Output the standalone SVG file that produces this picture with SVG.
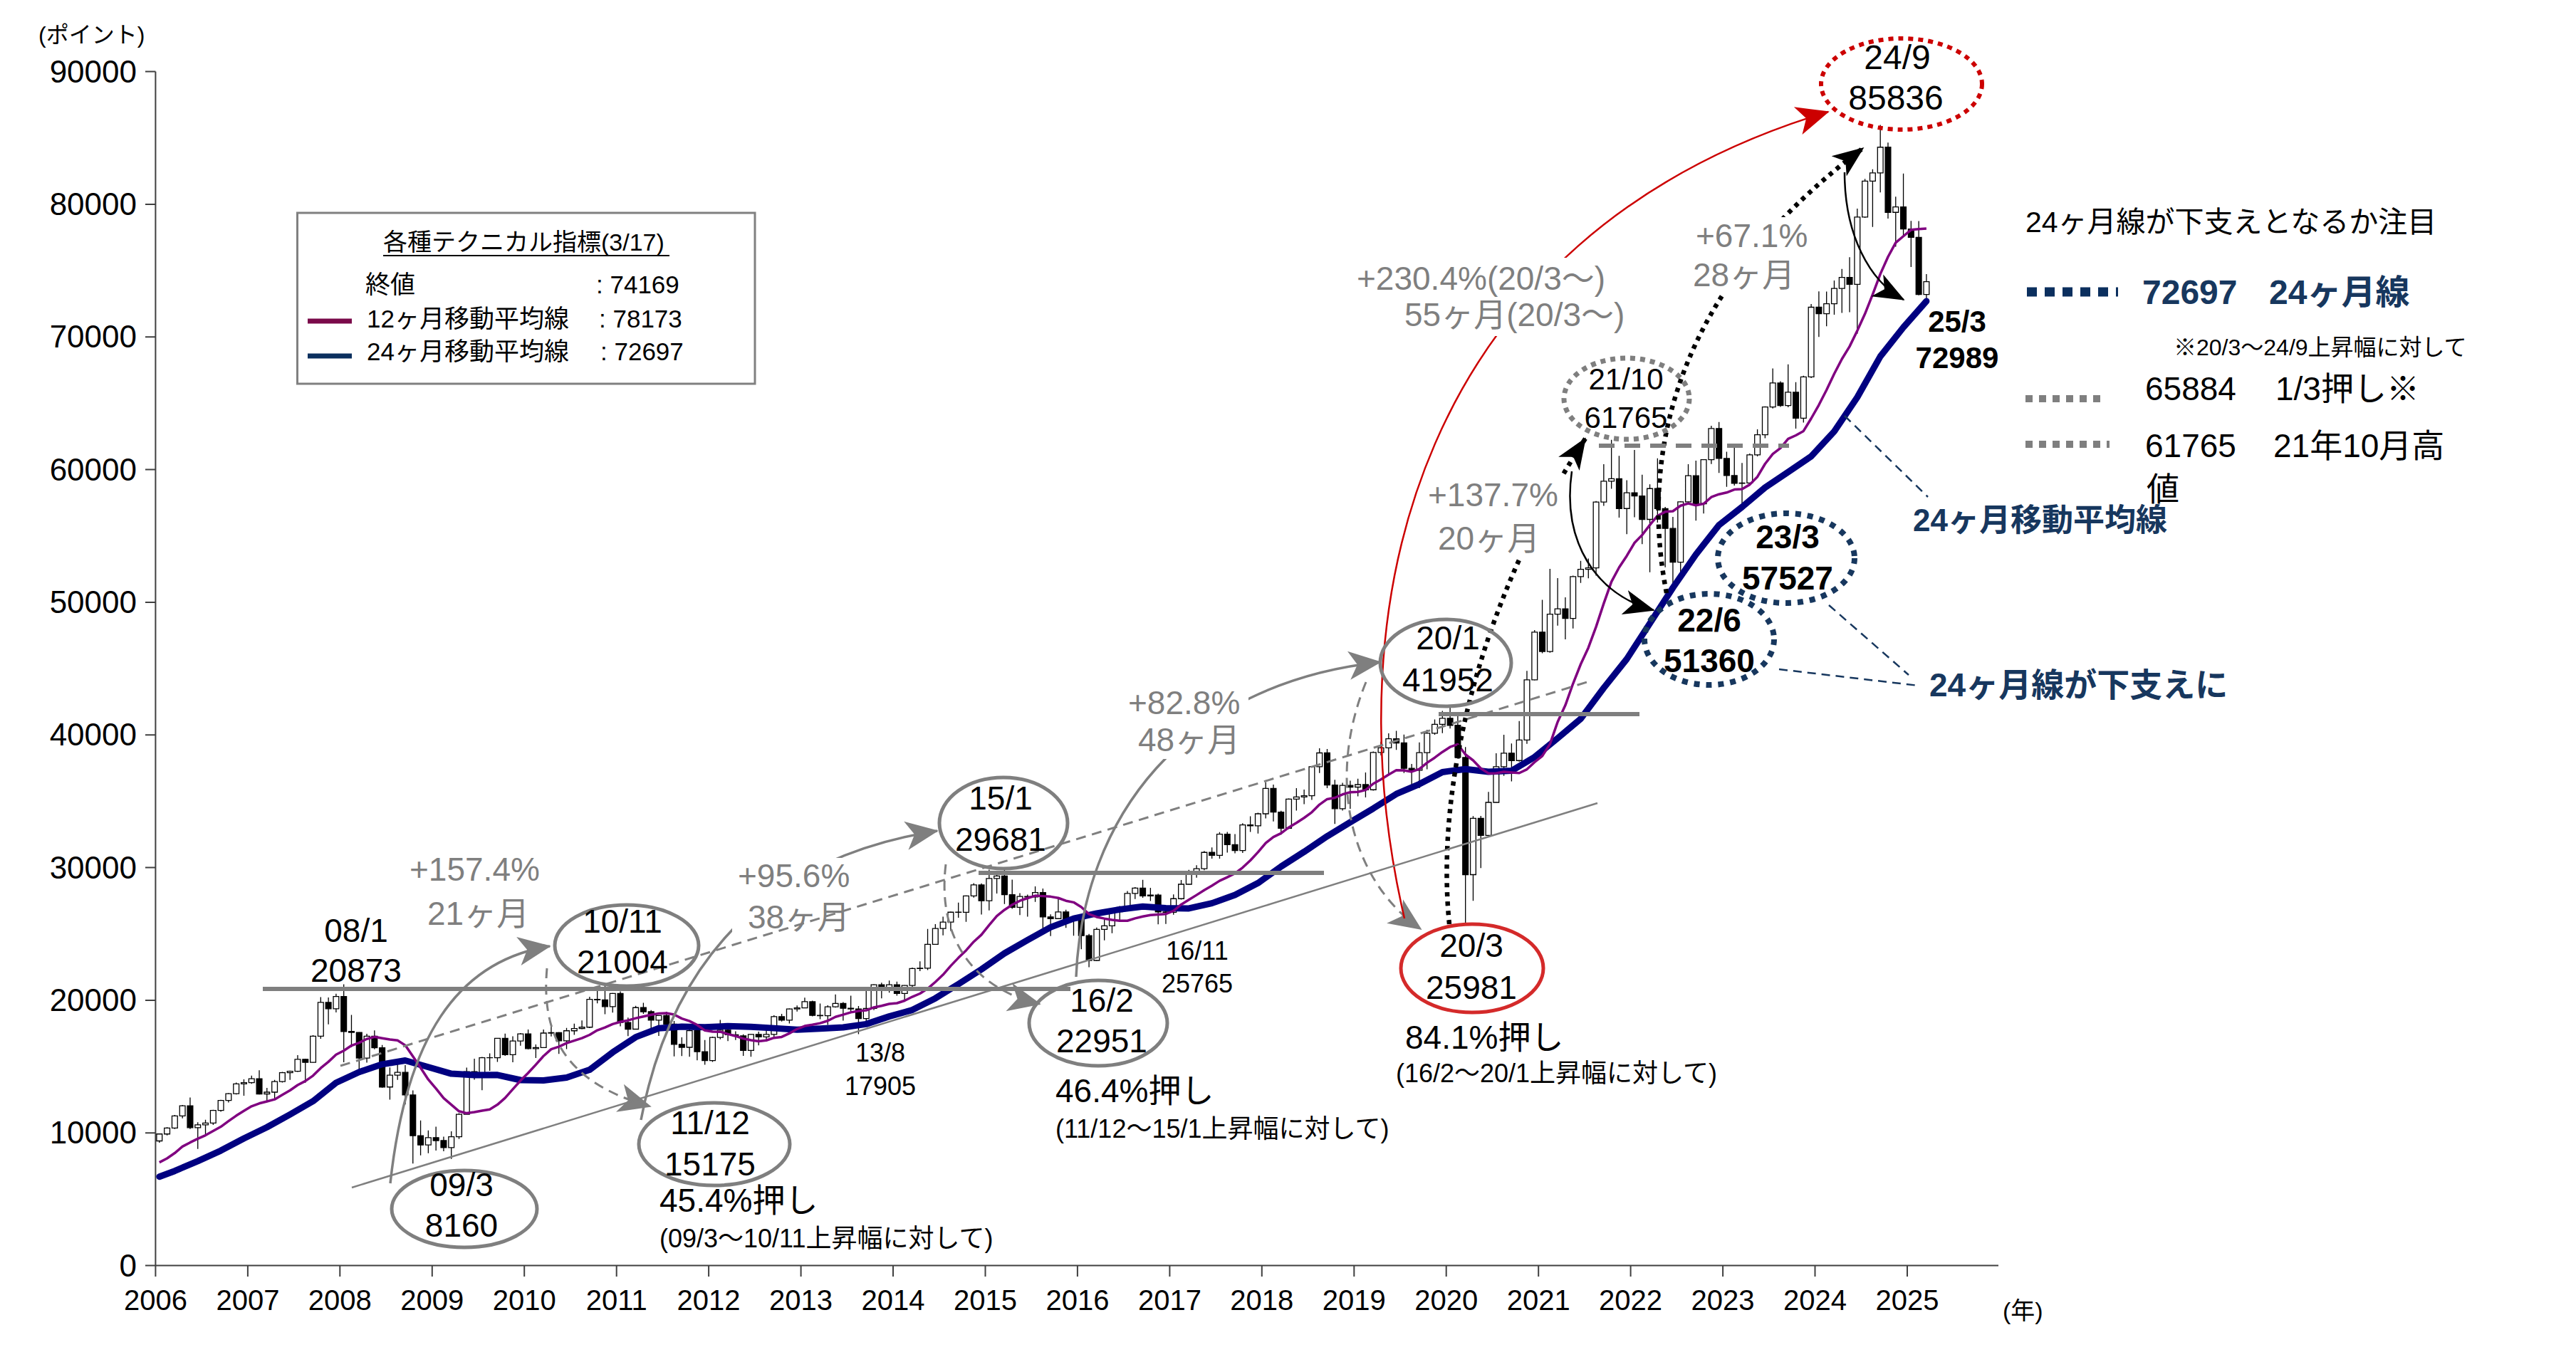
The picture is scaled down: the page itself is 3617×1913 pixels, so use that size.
<svg xmlns="http://www.w3.org/2000/svg" width="3617" height="1913" viewBox="0 0 3617 1913">
<style>
text{font-family:"Liberation Sans","Noto Sans CJK JP",sans-serif;fill:#000}
.ax{stroke:#404040;stroke-width:2;fill:none}
.yl{font-size:44px;text-anchor:end}
.xl{font-size:40px;text-anchor:middle}
.c{text-anchor:middle}
.big{font-size:46px}
.mid{font-size:36px}
.gr{fill:#7f7f7f;font-size:46px}
.nb{fill:#17375e;font-weight:bold}
.bb{font-weight:bold}
.wk{stroke:#000;stroke-width:1.3;fill:none;vector-effect:non-scaling-stroke}
.up{fill:#fff;stroke:#000;stroke-width:1.3;vector-effect:non-scaling-stroke}
.dn{fill:#000;stroke:#000;stroke-width:1.3;vector-effect:non-scaling-stroke}
.ma12{fill:none;stroke:#800080;stroke-width:3.5;stroke-linejoin:round;vector-effect:non-scaling-stroke}
.ma24{fill:none;stroke:#000080;stroke-width:9;stroke-linejoin:round;stroke-linecap:round;vector-effect:non-scaling-stroke}
.ga{fill:none;stroke:#7f7f7f;stroke-width:3.5;marker-end:url(#mg)}
.gd{fill:none;stroke:#7f7f7f;stroke-width:3;stroke-dasharray:14 9;marker-end:url(#mg)}
.ra{fill:none;stroke:#cc0000;stroke-width:2.5;marker-end:url(#mr)}
.kd{fill:none;stroke:#000;stroke-width:6.5;stroke-dasharray:6 7;marker-end:url(#mk)}
.ks{fill:none;stroke:#000;stroke-width:2.5;marker-end:url(#mk)}
.ld{fill:none;stroke:#17375e;stroke-width:2.5;stroke-dasharray:12 8}
.el{fill:none;stroke:#7f7f7f;stroke-width:5}
.hl{stroke:#7f7f7f;stroke-width:6;fill:none}
.bg{fill:#fff}
</style>
<defs>
<marker id="mg" viewBox="0 0 50 50" refX="48" refY="25" markerWidth="46" markerHeight="46" markerUnits="userSpaceOnUse" orient="auto"><path d="M0,3 L50,25 L0,47 L13,25 Z" fill="#7f7f7f"/></marker>
<marker id="mr" viewBox="0 0 50 50" refX="48" refY="25" markerWidth="46" markerHeight="46" markerUnits="userSpaceOnUse" orient="auto"><path d="M0,3 L50,25 L0,47 L13,25 Z" fill="#cc0000"/></marker>
<marker id="mk" viewBox="0 0 50 50" refX="48" refY="25" markerWidth="44" markerHeight="44" markerUnits="userSpaceOnUse" orient="auto"><path d="M0,5 L50,25 L0,45 L13,25 Z" fill="#000"/></marker>
</defs>
<rect width="3617" height="1913" fill="#fff"/>

<g id="axes">
<path class="ax" d="M218.4 100.5V1777.6H2806M204 100.5H218.4M204 286.9H218.4M204 473.2H218.4M204 659.6H218.4M204 845.9H218.4M204 1032.2H218.4M204 1218.6H218.4M204 1404.9H218.4M204 1591.3H218.4M204 1777.6H218.4M218.4 1777.6V1793M347.9 1777.6V1793M477.3 1777.6V1793M606.8 1777.6V1793M736.2 1777.6V1793M865.7 1777.6V1793M995.1 1777.6V1793M1124.6 1777.6V1793M1254 1777.6V1793M1383.5 1777.6V1793M1512.9 1777.6V1793M1642.4 1777.6V1793M1771.8 1777.6V1793M1901.3 1777.6V1793M2030.7 1777.6V1793M2160.2 1777.6V1793M2289.6 1777.6V1793M2419.1 1777.6V1793M2548.5 1777.6V1793M2678 1777.6V1793"/>
<text x="54" y="60" font-size="32">(ポイント)</text>
<text class="yl" x="192" y="115.5">90000</text>
<text class="yl" x="192" y="301.9">80000</text>
<text class="yl" x="192" y="488.2">70000</text>
<text class="yl" x="192" y="674.6">60000</text>
<text class="yl" x="192" y="860.9">50000</text>
<text class="yl" x="192" y="1047.2">40000</text>
<text class="yl" x="192" y="1233.6">30000</text>
<text class="yl" x="192" y="1419.9">20000</text>
<text class="yl" x="192" y="1606.3">10000</text>
<text class="yl" x="192" y="1792.6">0</text>
<text class="xl" x="218.4" y="1840">2006</text>
<text class="xl" x="347.9" y="1840">2007</text>
<text class="xl" x="477.3" y="1840">2008</text>
<text class="xl" x="606.8" y="1840">2009</text>
<text class="xl" x="736.2" y="1840">2010</text>
<text class="xl" x="865.7" y="1840">2011</text>
<text class="xl" x="995.1" y="1840">2012</text>
<text class="xl" x="1124.6" y="1840">2013</text>
<text class="xl" x="1254" y="1840">2014</text>
<text class="xl" x="1383.5" y="1840">2015</text>
<text class="xl" x="1512.9" y="1840">2016</text>
<text class="xl" x="1642.4" y="1840">2017</text>
<text class="xl" x="1771.8" y="1840">2018</text>
<text class="xl" x="1901.3" y="1840">2019</text>
<text class="xl" x="2030.7" y="1840">2020</text>
<text class="xl" x="2160.2" y="1840">2021</text>
<text class="xl" x="2289.6" y="1840">2022</text>
<text class="xl" x="2419.1" y="1840">2023</text>
<text class="xl" x="2548.5" y="1840">2024</text>
<text class="xl" x="2678" y="1840">2025</text>
<text x="2812" y="1853" font-size="34">(年)</text>
</g>

<g id="candles" transform="matrix(10.7875 0 0 -0.018634 218.4 1777.6)">
<path class="wk" d="M.5 9269V9945M1.5 9810V10435M2.5 10300V11357M3.5 11100V12102M4.5 10300V12671M5.5 8799V10800M6.5 9875V11000M7.5 10600V11740M8.5 11600V12500M9.5 12300V13000M10.5 12900V13800M11.5 12800V14035M12.5 13700V14326M13.5 12900V14724M14.5 12316V13400M15.5 12500V14000M16.5 13800V14600M17.5 14000V14700M18.5 14600V15869M19.5 13780V15600M20.5 15300V17361M21.5 17100V20238M22.5 18182V20204M23.5 19079V20498M24.5 15332V21206M25.5 16458V18896M26.5 14677V17600M27.5 15297V17480M28.5 16300V17735M29.5 13405V16632M30.5 12514V14942M31.5 14002V15580M32.5 12153V15107M33.5 7697V13203M34.5 8316V10945M35.5 8467V10188M36.5 8675V10469M37.5 8619V9725M38.5 8047V10127M39.5 9546V11492M40.5 11621V14930M41.5 14016V15600M42.5 13219V15732M43.5 14684V16002M44.5 15356V17142M45.5 15805V17493M46.5 15330V17290M47.5 16577V17530M48.5 16289V17790M49.5 15651V16670M50.5 16400V17793M51.5 17276V18047M52.5 15960V17600M53.5 16318V17919M54.5 17395V18238M55.5 17820V18475M56.5 17900V20268M57.5 19768V20854M58.5 18954V21108M59.5 19074V20552M60.5 18038V20664M61.5 17296V18690M62.5 17792V19575M63.5 18976V19811M64.5 17786V19254M65.5 17314V18873M66.5 18131V19131M67.5 15766V18440M68.5 15801V17211M69.5 15745V17908M70.5 15478V17804M71.5 15135V17003M72.5 15358V17258M73.5 17061V18523M74.5 16920V18040M75.5 17010V17664M76.5 15809V17432M77.5 15748V17448M78.5 16598V17631M79.5 17026V17972M80.5 17250V18869M81.5 18393V18970M82.5 18255V19372M83.5 19149V19612M84.5 19400V20203M85.5 18793V19966M86.5 18568V19754M87.5 18144V19622M88.5 19451V20443M89.5 18467V19860M90.5 19126V20351M91.5 17448V19569M92.5 18166V20740M93.5 19264V21205M94.5 20137V21321M95.5 20569V21484M96.5 20343V21410M97.5 19963V21141M98.5 20921V22467M99.5 22198V22939M100.5 22277V25376M101.5 24200V25735M102.5 24892V26300M103.5 25233V26674M104.5 26220V27355M105.5 25911V27894M106.5 27740V28822M107.5 26469V28809M108.5 26776V29844M109.5 28044V29560M110.5 27248V30024M111.5 26897V29094M112.5 26424V28071M113.5 26307V27968M114.5 27416V28578M115.5 25298V28418M116.5 24834V26472M117.5 26142V27618M118.5 25451V26824M119.5 24867V26256M120.5 23840V26197M121.5 22494V25002M122.5 22964V25479M123.5 24523V26101M124.5 25058V26837M125.5 25911V27105M126.5 26964V28240M127.5 27628V28532M128.5 27717V29077M129.5 27488V28478M130.5 25718V28030M131.5 25754V26804M132.5 26447V27981M133.5 27590V29065M134.5 28716V29825M135.5 29241V30184M136.5 29804V31256M137.5 30681V31522M138.5 30680V32672M139.5 31128V32686M140.5 31082V32524M141.5 31100V33340M142.5 32683V33866M143.5 32565V34138M144.5 33703V36444M145.5 33482V36256M146.5 32484V34278M147.5 32900V35213M148.5 34302V35993M149.5 34785V35877M150.5 35107V37645M151.5 37128V38990M152.5 35986V38934M153.5 33292V36616M154.5 34303V36389M155.5 34426V36555M156.5 35375V36701M157.5 35287V37172M158.5 35800V38749M159.5 38460V39487M160.5 36956V40125M161.5 38871V40312M162.5 37129V40032M163.5 36102V37807M164.5 35988V39441M165.5 37416V40392M166.5 40014V41163M167.5 40136V41810M168.5 40477V42273M169.5 38219V41709M170.5 25638V39083M171.5 27500V33887M172.5 29968V33900M173.5 32348V35706M174.5 34900V38617M175.5 36911V40010M176.5 36495V39360M177.5 37991V41048M178.5 39334V44825M179.5 44119V47897M180.5 46160V50184M181.5 46200V52517M182.5 48236V51822M183.5 47204V50375M184.5 48028V52013M185.5 51451V53126M186.5 51802V53290M187.5 52009V57625M188.5 57263V60412M189.5 58551V62245M190.5 56383V61036M191.5 55132V59203M192.5 56409V61475M193.5 54383V59618M194.5 52260V58890M195.5 56009V60845M196.5 52632V57184M197.5 50921V56432M198.5 52094V57619M199.5 57367V60411M200.5 56147V60676M201.5 56683V60787M202.5 60425V63303M203.5 59754V63583M204.5 58699V61343M205.5 58795V61682M206.5 57085V60498M207.5 58793V61209M208.5 61002V63036M209.5 62359V64768M210.5 64600V67619M211.5 64723V66659M212.5 64700V67927M213.5 63092V66593M214.5 63550V67069M215.5 66900V72484M216.5 70002V73428M217.5 70810V73414M218.5 71674V74245M219.5 71816V75124M220.5 71866V76010M221.5 70234V79671M222.5 78971V81908M223.5 78295V82637M224.5 80895V85978M225.5 78918V84648M226.5 76802V80569M227.5 77561V82317M228.5 75267V78741M229.5 73141V78735M230.5 72633V74741"/>
<path class="up" d="M.14 9398h.72V9920h-.72zM1.14 9920h.72V10370h-.72zM2.14 10370h.72V11280h-.72zM3.14 11280h.72V12043h-.72zM5.14 10399h.72V10609h-.72zM6.14 10609h.72V10744h-.72zM7.14 10744h.72V11699h-.72zM8.14 11699h.72V12454h-.72zM9.14 12454h.72V12962h-.72zM10.14 12962h.72V13696h-.72zM11.14 13696h.72V13787h-.72zM12.14 13787h.72V14091h-.72zM14.14 12938h.72V13072h-.72zM15.14 13072h.72V13872h-.72zM16.14 13872h.72V14544h-.72zM17.14 14544h.72V14651h-.72zM18.14 14651h.72V15551h-.72zM20.14 15319h.72V17291h-.72zM21.14 17291h.72V19838h-.72zM23.14 19363h.72V20287h-.72zM27.14 15644h.72V17287h-.72zM30.14 13462h.72V14356h-.72zM31.14 14356h.72V14565h-.72zM35.14 9093h.72V9647h-.72zM38.14 8892h.72V9709h-.72zM39.14 9709h.72V11403h-.72zM40.14 11403h.72V14625h-.72zM42.14 14494h.72V15670h-.72zM44.14 15667h.72V17127h-.72zM46.14 15896h.72V16926h-.72zM47.14 16926h.72V17465h-.72zM49.14 16358h.72V16430h-.72zM50.14 16430h.72V17528h-.72zM51.14 17528h.72V17559h-.72zM53.14 16945h.72V17701h-.72zM54.14 17701h.72V17868h-.72zM55.14 17868h.72V17971h-.72zM56.14 17971h.72V20069h-.72zM59.14 19521h.72V20509h-.72zM62.14 17823h.72V19445h-.72zM65.14 18503h.72V18845h-.72zM69.14 16454h.72V17705h-.72zM72.14 15455h.72V17194h-.72zM73.14 17194h.72V17753h-.72zM77.14 16219h.72V17430h-.72zM79.14 17236h.72V17430h-.72zM80.14 17430h.72V18763h-.72zM82.14 18505h.72V19340h-.72zM83.14 19340h.72V19427h-.72zM84.14 19427h.72V19895h-.72zM87.14 18836h.72V19504h-.72zM88.14 19504h.72V19760h-.72zM92.14 18620h.72V19380h-.72zM93.14 19380h.72V21165h-.72zM95.14 20792h.72V21171h-.72zM97.14 20514h.72V21120h-.72zM98.14 21120h.72V22386h-.72zM99.14 22386h.72V22418h-.72zM100.14 22418h.72V24217h-.72zM101.14 24217h.72V25414h-.72zM102.14 25414h.72V25895h-.72zM103.14 25895h.72V26638h-.72zM105.14 26631h.72V27866h-.72zM106.14 27866h.72V28694h-.72zM108.14 27499h.72V29183h-.72zM109.14 29183h.72V29362h-.72zM112.14 27011h.72V27828h-.72zM114.14 27781h.72V28115h-.72zM117.14 26155h.72V26657h-.72zM122.14 23002h.72V25342h-.72zM123.14 25342h.72V25607h-.72zM124.14 25607h.72V26668h-.72zM125.14 26668h.72V26999h-.72zM126.14 26999h.72V28052h-.72zM127.14 28052h.72V28452h-.72zM129.14 27866h.72V27930h-.72zM132.14 26626h.72V27656h-.72zM133.14 27656h.72V28743h-.72zM134.14 28743h.72V29621h-.72zM135.14 29621h.72V29918h-.72zM136.14 29918h.72V31146h-.72zM138.14 30922h.72V32515h-.72zM141.14 31284h.72V33213h-.72zM143.14 33149h.72V34057h-.72zM144.14 34057h.72V35965h-.72zM147.14 32969h.72V35160h-.72zM148.14 35160h.72V35322h-.72zM149.14 35322h.72V35423h-.72zM150.14 35423h.72V37607h-.72zM151.14 37607h.72V38645h-.72zM154.14 34442h.72V36194h-.72zM156.14 36068h.72V36257h-.72zM158.14 35867h.72V38673h-.72zM159.14 38673h.72V39032h-.72zM160.14 39032h.72V39714h-.72zM164.14 37333h.72V38667h-.72zM165.14 38667h.72V40129h-.72zM166.14 40129h.72V40794h-.72zM167.14 40794h.72V41254h-.72zM171.14 29468h.72V33718h-.72zM173.14 32424h.72V34916h-.72zM174.14 34916h.72V37607h-.72zM175.14 37607h.72V38628h-.72zM177.14 38068h.72V39614h-.72zM178.14 39614h.72V44150h-.72zM179.14 44150h.72V47751h-.72zM181.14 46286h.72V49100h-.72zM182.14 49100h.72V49509h-.72zM184.14 48782h.72V51937h-.72zM185.14 51937h.72V52483h-.72zM186.14 52483h.72V52587h-.72zM187.14 52587h.72V57552h-.72zM188.14 57552h.72V59126h-.72zM189.14 59126h.72V59307h-.72zM191.14 57065h.72V58254h-.72zM194.14 56247h.72V58569h-.72zM198.14 53019h.72V57570h-.72zM199.14 57570h.72V59537h-.72zM201.14 57427h.72V60747h-.72zM202.14 60747h.72V63100h-.72zM206.14 58962h.72V58992h-.72zM207.14 58992h.72V61112h-.72zM208.14 61112h.72V62622h-.72zM209.14 62622h.72V64719h-.72zM210.14 64719h.72V66528h-.72zM212.14 64831h.72V65828h-.72zM214.14 63875h.72V66988h-.72zM215.14 66988h.72V72240h-.72zM217.14 71752h.72V72500h-.72zM218.14 72500h.72V73651h-.72zM219.14 73651h.72V74483h-.72zM221.14 73961h.72V79033h-.72zM222.14 79033h.72V81741h-.72zM223.14 81741h.72V82365h-.72zM224.14 82365h.72V84300h-.72zM226.14 79389h.72V79803h-.72zM230.14 73198h.72V74169h-.72z"/>
<path class="dn" d="M4.14 12043h.72V10399h-.72zM13.14 14091h.72V12938h-.72zM19.14 15551h.72V15319h-.72zM22.14 19838h.72V19363h-.72zM24.14 20287h.72V17649h-.72zM25.14 17649h.72V17579h-.72zM26.14 17579h.72V15644h-.72zM28.14 17287h.72V16416h-.72zM29.14 16416h.72V13462h-.72zM32.14 14565h.72V12860h-.72zM33.14 12860h.72V9788h-.72zM34.14 9788h.72V9093h-.72zM36.14 9647h.72V9424h-.72zM37.14 9424h.72V8892h-.72zM41.14 14625h.72V14494h-.72zM43.14 15670h.72V15667h-.72zM45.14 17127h.72V15896h-.72zM48.14 17465h.72V16358h-.72zM52.14 17559h.72V16945h-.72zM57.14 20069h.72V20032h-.72zM58.14 20032h.72V19521h-.72zM60.14 20509h.72V18328h-.72zM61.14 18328h.72V17823h-.72zM63.14 19445h.72V19136h-.72zM64.14 19136h.72V18503h-.72zM66.14 18845h.72V18197h-.72zM67.14 18197h.72V16677h-.72zM68.14 16677h.72V16454h-.72zM70.14 17705h.72V16123h-.72zM71.14 16123h.72V15455h-.72zM74.14 17753h.72V17404h-.72zM75.14 17404h.72V17319h-.72zM76.14 17319h.72V16219h-.72zM78.14 17430h.72V17236h-.72zM81.14 18763h.72V18505h-.72zM85.14 19895h.72V18862h-.72zM86.14 18862h.72V18836h-.72zM89.14 19760h.72V19396h-.72zM90.14 19396h.72V19346h-.72zM91.14 19346h.72V18620h-.72zM94.14 21165h.72V20792h-.72zM96.14 21171h.72V20514h-.72zM104.14 26638h.72V26631h-.72zM107.14 28694h.72V27499h-.72zM110.14 29362h.72V27957h-.72zM111.14 27957h.72V27011h-.72zM113.14 27828h.72V27781h-.72zM115.14 28115h.72V26283h-.72zM116.14 26283h.72V26155h-.72zM118.14 26657h.72V26146h-.72zM119.14 26146h.72V26118h-.72zM120.14 26118h.72V24871h-.72zM121.14 24871h.72V23002h-.72zM128.14 28452h.72V27866h-.72zM130.14 27930h.72V26653h-.72zM131.14 26653h.72V26626h-.72zM137.14 31146h.72V30922h-.72zM139.14 32515h.72V31730h-.72zM140.14 31730h.72V31284h-.72zM142.14 33213h.72V33149h-.72zM145.14 35965h.72V34184h-.72zM146.14 34184h.72V32969h-.72zM152.14 38645h.72V36227h-.72zM153.14 36227h.72V34442h-.72zM155.14 36194h.72V36068h-.72zM157.14 36257h.72V35867h-.72zM161.14 39714h.72V39395h-.72zM162.14 39395h.72V37481h-.72zM163.14 37481h.72V37333h-.72zM168.14 41254h.72V40723h-.72zM169.14 40723h.72V38297h-.72zM170.14 38297h.72V29468h-.72zM172.14 33718h.72V32424h-.72zM176.14 38628h.72V38068h-.72zM180.14 47751h.72V46286h-.72zM183.14 49509h.72V48782h-.72zM190.14 59307h.72V57065h-.72zM192.14 58254h.72V58014h-.72zM193.14 58014h.72V56247h-.72zM195.14 58569h.72V57061h-.72zM196.14 57061h.72V55566h-.72zM197.14 55566h.72V53019h-.72zM200.14 59537h.72V57427h-.72zM203.14 63100h.72V60841h-.72zM204.14 60841h.72V59550h-.72zM205.14 59550h.72V58962h-.72zM211.14 66528h.72V64831h-.72zM213.14 65828h.72V63875h-.72zM216.14 72240h.72V71752h-.72zM220.14 74483h.72V73961h-.72zM225.14 84300h.72V79389h-.72zM227.14 79803h.72V78139h-.72zM228.14 78139h.72V77501h-.72zM229.14 77501h.72V73198h-.72z"/>
</g>

<g id="moving-averages" transform="matrix(10.7875 0 0 -0.018634 218.4 1777.6)">
<polyline class="ma24" points=".5,6701 2.5,7134 5.5,7877 8.5,8667 11.5,9581 14.5,10428 17.5,11387 20.5,12390 23.5,13783 26.5,14587 29.5,15175 32.5,15462 35.5,14965 38.5,14462 41.5,14356 44.5,14369 47.5,13985 50.5,13962 53.5,14172 56.5,14761 59.5,16075 62.5,17223 65.5,17888 68.5,18008 71.5,17966 74.5,18051 77.5,17999 80.5,17896 83.5,17780 86.5,17863 89.5,17954 92.5,18204 95.5,18781 98.5,19267 101.5,20146 104.5,21218 107.5,22334 110.5,23539 113.5,24537 116.5,25504 119.5,26162 122.5,26545 125.5,26846 128.5,27063 131.5,26944 134.5,26924 137.5,27315 140.5,27939 143.5,28834 146.5,30080 149.5,31190 152.5,32361 155.5,33423 158.5,34456 161.5,35546 164.5,36294 167.5,37200 170.5,37424 173.5,37222 176.5,37298 179.5,38332 182.5,39752 185.5,41213 188.5,43538 191.5,45723 194.5,48404 197.5,51095 200.5,53605 203.5,55820 206.5,57179 209.5,58648 212.5,59811 215.5,60998 218.5,62876 221.5,65452 224.5,68530 227.5,70724 230.5,72697"/>
<polyline class="ma12" points=".5,7779 1.5,8083 2.5,8482 3.5,8973 4.5,9280 5.5,9565 6.5,9824 7.5,10148 8.5,10466 9.5,10889 10.5,11298 11.5,11664 12.5,12011 13.5,12225 14.5,12375 15.5,12527 16.5,12872 17.5,13209 18.5,13610 19.5,13911 20.5,14315 21.5,14888 22.5,15360 23.5,15901 24.5,16198 25.5,16585 26.5,16799 27.5,17084 28.5,17240 29.5,17141 30.5,17041 31.5,16978 32.5,16609 33.5,15771 34.5,14916 35.5,14029 36.5,13343 37.5,12620 38.5,12125 39.5,11635 40.5,11485 41.5,11571 42.5,11681 43.5,11773 44.5,12128 45.5,12637 46.5,13290 47.5,13942 48.5,14519 49.5,15148 50.5,15799 51.5,16312 52.5,16505 53.5,16773 54.5,16956 55.5,17148 56.5,17393 57.5,17738 58.5,17954 59.5,18208 60.5,18372 61.5,18488 62.5,18648 63.5,18779 64.5,18909 65.5,19004 66.5,19032 67.5,18924 68.5,18623 69.5,18429 70.5,18145 71.5,17724 72.5,17630 73.5,17624 74.5,17454 75.5,17302 76.5,17112 77.5,16994 78.5,16914 79.5,16977 80.5,17169 81.5,17236 82.5,17504 83.5,17835 84.5,18060 85.5,18153 86.5,18272 87.5,18454 88.5,18749 89.5,18913 90.5,19089 91.5,19188 92.5,19239 93.5,19461 94.5,19582 95.5,19727 96.5,19779 97.5,19967 98.5,20263 99.5,20506 100.5,20877 101.5,21379 102.5,21924 103.5,22593 104.5,23197 105.5,23755 106.5,24414 107.5,24941 108.5,25663 109.5,26350 110.5,26815 111.5,27197 112.5,27498 113.5,27695 114.5,27880 115.5,27851 116.5,27811 117.5,27710 118.5,27498 119.5,27383 120.5,27024 121.5,26494 122.5,26276 123.5,26159 124.5,26062 125.5,25997 126.5,25992 127.5,26172 128.5,26315 129.5,26421 130.5,26463 131.5,26506 132.5,26738 133.5,27216 134.5,27573 135.5,27932 136.5,28305 137.5,28632 138.5,29004 139.5,29277 140.5,29562 141.5,30002 142.5,30544 143.5,31163 144.5,31855 145.5,32309 146.5,32588 147.5,33025 148.5,33373 149.5,33748 150.5,34172 151.5,34748 152.5,35160 153.5,35263 154.5,35516 155.5,35684 156.5,35708 157.5,35848 158.5,36324 159.5,36646 160.5,37012 161.5,37343 162.5,37333 163.5,37224 164.5,37427 165.5,37901 166.5,38284 167.5,38716 168.5,39089 169.5,39291 170.5,38524 171.5,38081 172.5,37474 173.5,37100 174.5,37111 175.5,37219 176.5,37169 177.5,37126 178.5,37406 179.5,37947 180.5,38411 181.5,39311 182.5,40981 183.5,42236 184.5,43862 185.5,45326 186.5,46575 187.5,48152 188.5,49906 189.5,51548 190.5,52624 191.5,53499 192.5,54476 193.5,55072 194.5,55827 195.5,56517 196.5,56819 197.5,56864 198.5,57279 199.5,57445 200.5,57303 201.5,57423 202.5,57926 203.5,58142 204.5,58270 205.5,58496 206.5,58531 207.5,58869 208.5,59457 209.5,60432 210.5,61178 211.5,61619 212.5,62319 213.5,62580 214.5,62904 215.5,63854 216.5,64871 217.5,65999 218.5,67221 219.5,68335 220.5,69280 221.5,70473 222.5,71740 223.5,73201 224.5,74741 225.5,76034 226.5,77102 227.5,77593 228.5,78072 229.5,78130 230.5,78174"/>
</g>

<g id="connectors">
<path class="ga" d="M548,1662 C570,1460 640,1350 772,1329"/>
<path class="ga" d="M900,1573 C935,1390 1040,1210 1316,1167"/>
<path class="ga" d="M1511,1372 C1520,1150 1660,960 1938,930"/>
<path class="gd" d="M768,1360 C760,1450 790,1520 913,1554"/>
<path class="gd" d="M1328,1214 C1315,1320 1370,1390 1460,1410"/>
<path class="gd" d="M1918,958 C1860,1100 1900,1240 1995,1305"/>
<path class="ra" d="M1972,1290 C1870,850 1990,330 2567,157"/>
<path class="kd" d="M2035,1298 C2015,1100 2080,840 2226,616"/>
<path class="kd" d="M2340,833 C2310,680 2320,430 2616,208"/>
<path class="ks" d="M2207,662 C2193,760 2240,835 2322,857"/>
<path class="ks" d="M2590,242 C2590,330 2625,395 2673,421"/>
<path class="ld" d="M2590,584 L2707,698M2568,850 L2680,948M2498,940 L2694,963"/>
</g>

<g id="label-backgrounds">
<rect class="bg" x="1028" y="1205" width="170" height="110"/>
<rect class="bg" x="1578" y="958" width="175" height="108"/>
<rect class="bg" x="1898" y="362" width="385" height="110"/>
<rect class="bg" x="2000" y="668" width="195" height="115"/>
<rect class="bg" x="2372" y="305" width="172" height="108"/>
</g>

<g id="reference-lines">
<path fill="none" stroke="#7f7f7f" stroke-width="2.5" d="M494,1668 L2243,1128"/>
<path fill="none" stroke="#7f7f7f" stroke-width="3" stroke-dasharray="14 9" d="M478,1497 L2235,956"/>
<path class="hl" d="M369,1389H1503M1374,1226H1859M2020,1003H2302"/>
<path class="hl" stroke-dasharray="22 14" d="M2245,626H2512"/>
</g>

<g id="legend-box">
<rect x="417.5" y="299" width="642.5" height="240" fill="#fff" stroke="#808080" stroke-width="3"/>
<text x="538" y="352" font-size="34">各種テクニカル指標(3/17)</text>
<line x1="538" y1="359" x2="940" y2="359" stroke="#000" stroke-width="2"/>
<text x="513" y="412" font-size="35">終値</text>
<text x="837" y="412" font-size="35">: 74169</text>
<line x1="432" y1="451" x2="494" y2="451" stroke="#7a0a4a" stroke-width="7"/>
<text x="515" y="460" font-size="35">12ヶ月移動平均線</text>
<text x="841" y="460" font-size="35">: 78173</text>
<line x1="432" y1="500" x2="494" y2="500" stroke="#0b2f5e" stroke-width="7"/>
<text x="515" y="506" font-size="35">24ヶ月移動平均線</text>
<text x="843" y="506" font-size="35">: 72697</text>
</g>

<g id="node-08-1"><text class="big c" x="500" y="1323">08/1</text><text class="big c" x="500" y="1379">20873</text></g>
<g id="node-10-11"><ellipse class="el" cx="880" cy="1328" rx="101" ry="57"/><text class="big c" x="874" y="1310">10/11</text><text class="big c" x="874" y="1367">21004</text></g>
<g id="node-09-3"><ellipse class="el" cx="652" cy="1698" rx="102" ry="54"/><text class="big c" x="648" y="1680">09/3</text><text class="big c" x="648" y="1737">8160</text></g>
<g id="node-11-12"><ellipse class="el" cx="1003" cy="1607" rx="106" ry="58"/><text class="big c" x="997" y="1593">11/12</text><text class="big c" x="997" y="1651">15175</text>
<text class="big" x="926" y="1702">45.4%押し</text><text x="926" y="1752" font-size="36">(09/3～10/11上昇幅に対して)</text></g>
<g id="node-13-8"><text class="mid c" x="1236" y="1491">13/8</text><text class="mid c" x="1236" y="1538">17905</text></g>
<g id="node-15-1"><ellipse class="el" cx="1409" cy="1156" rx="90" ry="64"/><text class="big c" x="1405" y="1137">15/1</text><text class="big c" x="1405" y="1195">29681</text></g>
<g id="node-16-2"><ellipse class="el" cx="1542" cy="1437" rx="97" ry="60"/><text class="big c" x="1547" y="1421">16/2</text><text class="big c" x="1547" y="1478">22951</text>
<text class="big" x="1482" y="1548">46.4%押し</text><text x="1482" y="1598" font-size="36">(11/12～15/1上昇幅に対して)</text></g>
<g id="node-16-11"><text class="mid c" x="1681" y="1348">16/11</text><text class="mid c" x="1681" y="1394">25765</text></g>
<g id="node-20-3"><ellipse cx="2067" cy="1360" rx="100" ry="62" fill="none" stroke="#d42a2a" stroke-width="5"/><text class="big c" x="2066" y="1344">20/3</text><text class="big c" x="2066" y="1403">25981</text>
<text class="big" x="1973" y="1473">84.1%押し</text><text x="1960" y="1520" font-size="36">(16/2～20/1上昇幅に対して)</text></g>
<g id="node-20-1"><ellipse class="el" cx="2030" cy="931" rx="92" ry="61"/><text class="big c" x="2033" y="912">20/1</text><text class="big c" x="2033" y="971">41952</text></g>
<g id="node-21-10"><ellipse cx="2284" cy="560" rx="88" ry="57" fill="none" stroke="#7f7f7f" stroke-width="7" stroke-dasharray="7 7"/><text class="c" x="2283" y="547" font-size="42">21/10</text><text class="c" x="2283" y="601" font-size="42">61765</text></g>
<g id="node-22-6"><ellipse cx="2400" cy="898" rx="91" ry="64" fill="none" stroke="#17375e" stroke-width="8" stroke-dasharray="8 9"/><text class="big c bb" x="2400" y="887">22/6</text><text class="big c bb" x="2400" y="944">51360</text></g>
<g id="node-23-3"><ellipse cx="2508" cy="784" rx="96" ry="63" fill="none" stroke="#17375e" stroke-width="8" stroke-dasharray="8 9"/><text class="big c bb" x="2510" y="770">23/3</text><text class="big c bb" x="2510" y="828">57527</text></g>
<g id="node-25-3"><text class="c bb" x="2748" y="466" font-size="42">25/3</text><text class="c bb" x="2748" y="517" font-size="42">72989</text></g>
<g id="node-24-9"><ellipse cx="2670" cy="118" rx="113" ry="64" fill="none" stroke="#cc0000" stroke-width="6" stroke-dasharray="7 7"/><text class="c" x="2664" y="97" font-size="48">24/9</text><text class="c" x="2662" y="154" font-size="48">85836</text></g>

<g id="rise-labels">
<text class="gr" x="575" y="1237">+157.4%</text><text class="gr" x="600" y="1299">21ヶ月</text>
<text class="gr" x="1036" y="1246">+95.6%</text><text class="gr" x="1050" y="1304">38ヶ月</text>
<text class="gr" x="1584" y="1003">+82.8%</text><text class="gr" x="1598" y="1055">48ヶ月</text>
<text class="gr" x="1905" y="407">+230.4%(20/3～)</text><text class="gr" x="1972" y="458">55ヶ月(20/3～)</text>
<text class="gr" x="2005" y="711">+137.7%</text><text class="gr" x="2019" y="772">20ヶ月</text>
<text class="gr" x="2381" y="347">+67.1%</text><text class="gr" x="2377" y="402">28ヶ月</text>
</g>

<g id="ma-callouts">
<text class="nb" x="2686" y="746" font-size="44">24ヶ月移動平均線</text>
<text class="nb" x="2709" y="978" font-size="46">24ヶ月線が下支えに</text>
</g>

<g id="side-panel">
<text x="2844" y="326" font-size="41">24ヶ月線が下支えとなるか注目</text>
<line x1="2846" y1="410" x2="2974" y2="410" stroke="#0b2f5e" stroke-width="13" stroke-dasharray="14 11"/>
<text class="nb" x="3008" y="427" font-size="48">72697</text>
<text class="nb" x="3186" y="427" font-size="48">24ヶ月線</text>
<text x="3052" y="499" font-size="32">※20/3～24/9上昇幅に対して</text>
<line x1="2844" y1="560" x2="2958" y2="560" stroke="#7f7f7f" stroke-width="10" stroke-dasharray="10 9"/>
<text x="3012" y="562" font-size="46">65884</text>
<text x="3195" y="562" font-size="46">1/3押し※</text>
<line x1="2844" y1="624" x2="2962" y2="624" stroke="#7f7f7f" stroke-width="10" stroke-dasharray="10 9"/>
<text x="3012" y="642" font-size="46">61765</text>
<text x="3192" y="642" font-size="46">21年10月高</text>
<text x="3014" y="703" font-size="46">値</text>
</g>
</svg>
